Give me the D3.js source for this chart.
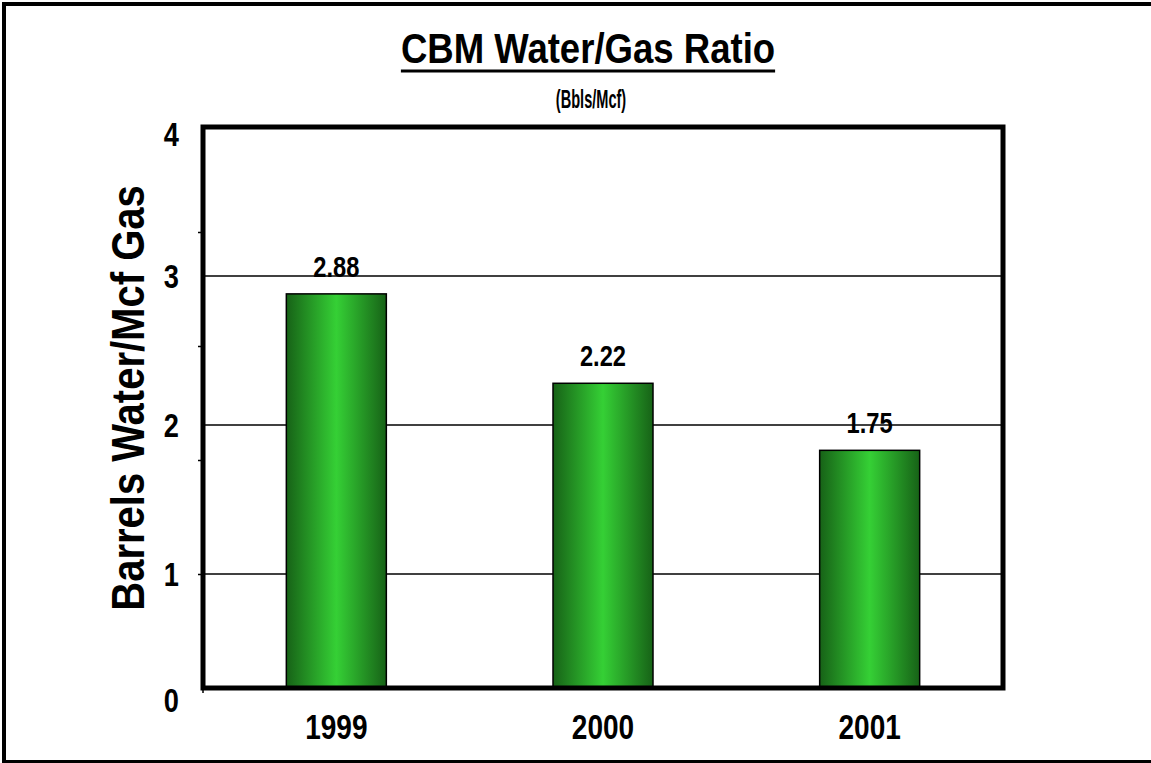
<!DOCTYPE html>
<html>
<head>
<meta charset="utf-8">
<script src="https://cdn.jsdelivr.net/npm/d3@7"></script>
<style>
  body { margin: 0; background: #fff; overflow: hidden; }
  svg { display: block; }
  text { font-family: "Liberation Sans", Arial, sans-serif; font-weight: bold; fill: #000; }
</style>
</head>
<body>
<div id="chart"></div>
<script>
// data
const years = ["1999", "2000", "2001"];
const barHeights = [2.88, 2.28, 1.83];   // heights as drawn
const barLabels = ["2.88", "2.22", "1.75"]; // labels as printed
const yTicks = [0, 1, 2, 3, 4];
const gridValues = [1, 2, 3];
const minorTicks = [1, 2, 3, 4];

const w = 1151, h = 763;
const plotL = 203, plotR = 1003, plotT = 127, plotB = 688;

const svg = d3.select("#chart").append("svg")
  .attr("width", w).attr("height", h);

// narrow text: the original uses a condensed bold face, so squeeze it
function narrowText(parent, x, y, str, size, sx, anchor) {
  const g = parent.append("g").attr("transform", `translate(${x},${y}) scale(${sx},1)`);
  g.append("text")
    .attr("text-anchor", anchor || "middle")
    .style("font-size", size + "px")
    .text(str);
  return g;
}

// outer border
svg.append("rect")
  .attr("x", 4).attr("y", 4)
  .attr("width", 1160).attr("height", 758)
  .attr("fill", "none").attr("stroke", "#000").attr("stroke-width", 4);

const defs = svg.append("defs");
const grad = defs.append("linearGradient").attr("id", "barGrad")
  .attr("x1", "0%").attr("x2", "100%").attr("y1", "0%").attr("y2", "0%");
grad.append("stop").attr("offset", "0%").attr("stop-color", "#176217");
grad.append("stop").attr("offset", "50%").attr("stop-color", "#35d035");
grad.append("stop").attr("offset", "100%").attr("stop-color", "#176217");

// y scale: the bottom step is squeezed in the original
const y = d3.scaleLinear().domain([0, 1, 4]).range([plotB, 574, plotT]);
const x = d3.scaleBand().domain(years).range([plotL, plotR]).paddingInner(0.625).paddingOuter(0.3125);
// the short tick marks on the left run on their own spacing
const yMinor = d3.scaleLinear().domain([0, 5]).range([plotB, 118]);

// gridlines
svg.append("g").selectAll("line").data(gridValues).enter().append("line")
  .attr("x1", plotL).attr("x2", plotR)
  .attr("y1", d => y(d)).attr("y2", d => y(d))
  .attr("stroke", "#000").attr("stroke-width", 1.5);

// bars
svg.append("g").selectAll("rect").data(barHeights).enter().append("rect")
  .attr("x", (d, i) => x(years[i]))
  .attr("y", d => y(d))
  .attr("width", x.bandwidth())
  .attr("height", d => y(0) - y(d))
  .attr("fill", "url(#barGrad)")
  .attr("stroke", "#000").attr("stroke-width", 1.5);

// value labels
const valG = svg.append("g");
barHeights.forEach((d, i) => {
  narrowText(valG, x(years[i]) + x.bandwidth() / 2, y(d) - 17, barLabels[i], 30, 0.79);
});

// minor ticks on left
svg.append("g")
  .attr("transform", `translate(${plotL},0)`)
  .call(d3.axisLeft(yMinor).tickValues(minorTicks).tickSize(5).tickFormat(""))
  .call(g => g.select(".domain").remove())
  .selectAll("line").attr("stroke-width", 1.5);

// y tick labels
const yLab = svg.append("g");
yTicks.forEach(d => {
  const t = narrowText(yLab, 179, y(d) + (d === 0 ? 12 : d === 4 ? 7 : 0), d, 34, 0.8, "end");
  t.select("text").attr("dy", "0.35em");
});

// x tick labels
const xLab = svg.append("g");
years.forEach(d => {
  narrowText(xLab, x(d) + x.bandwidth() / 2, 739, d, 35, 0.8);
});

// frame
svg.append("rect")
  .attr("x", plotL).attr("y", plotT)
  .attr("width", plotR - plotL).attr("height", plotB - plotT)
  .attr("fill", "none").attr("stroke", "#000").attr("stroke-width", 5);
svg.append("line")
  .attr("x1", plotL).attr("x2", plotL).attr("y1", plotB).attr("y2", plotB + 5)
  .attr("stroke", "#000").attr("stroke-width", 1.5);

// titles
const titleG = narrowText(svg, 588, 63, "CBM Water/Gas Ratio", 42, 0.87);
const tb = titleG.select("text").node().getBBox();
titleG.append("line")
  .attr("x1", tb.x).attr("x2", tb.x + tb.width)
  .attr("y1", 8).attr("y2", 8)
  .attr("stroke", "#000").attr("stroke-width", 3);

narrowText(svg, 591, 108, "(Bbls/Mcf)", 26, 0.56);

svg.append("g")
  .attr("transform", "translate(144,398) rotate(-90) scale(0.87,1)")
  .append("text")
  .attr("text-anchor", "middle")
  .style("font-size", "46px")
  .text("Barrels Water/Mcf Gas");
</script>
</body>
</html>
